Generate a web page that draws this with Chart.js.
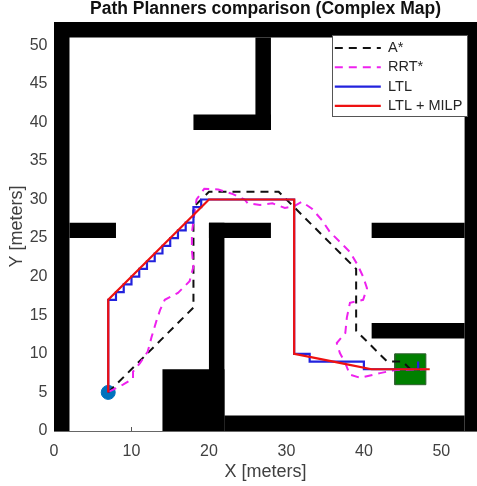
<!DOCTYPE html>
<html>
<head>
<meta charset="utf-8">
<script src="https://cdn.jsdelivr.net/npm/chart.js@4"></script>
<style>
html, body { margin: 0; padding: 0; background: #fff; overflow: hidden; }
canvas { display: block; }
</style>
</head>
<body>
<canvas id="plannerChart" width="477" height="486"></canvas>
<script>
// map blocks as [x0, y0, x1, y1] in meters
const walls = [
    [0, 0, 2, 53],
    [0, 51, 54.6, 53],
    [53, 0, 54.6, 53],
    [14, 0, 22, 8],
    [22, 0, 53, 2],
    [2, 25, 8, 27],
    [20, 0, 22, 27],
    [20, 25, 28, 27],
    [18, 39, 28, 41],
    [26, 39, 28, 51],
    [41, 25, 53, 27],
    [41, 12, 53, 14]
];
const goalBox = [44, 6, 48, 10];
const startPoint = [7, 5];

const astarX = [7, 18, 18, 20, 29, 30, 39, 39, 43, 45, 46, 48];
const astarY = [5, 16, 29, 31, 31, 30, 21, 13, 9, 9, 8, 8];

const rrtX = [7.1, 8.9, 10.2, 10.2, 11.1, 12.1, 12.6, 13.2, 13.7, 14.3, 16, 17.5, 18, 17.8, 17.8, 18, 18.4, 19.4, 21.2, 23.1, 24.6, 25, 26.6, 28.2, 29.8, 30.9, 32, 33.3, 34.6, 35.6, 36.9, 38.2, 39.2, 39.9, 40.4, 39.9, 38.2, 37.8, 37.6, 36.5, 36.9, 37.6, 38.2, 39.5, 42.1, 44, 48];
const rrtY = [5.1, 6, 6.8, 7.7, 8.8, 10.3, 12.2, 14.2, 15.7, 17, 17.9, 19.4, 21.3, 23.4, 25.6, 27.3, 30, 31.4, 31.3, 30.7, 30, 29.5, 29.3, 29.5, 28.9, 29.1, 29.7, 28.8, 27.3, 25.8, 24.5, 23.2, 21.5, 20, 18.5, 17, 16.6, 14.7, 12.7, 11.4, 10.1, 8.8, 7.3, 6.9, 7.5, 7.9, 8];

const ltlX = [7, 7, 8, 8, 9, 9, 10, 10, 11, 11, 12, 12, 13, 13, 14, 14, 15, 15, 16, 16, 17, 17, 18, 18, 19, 19, 31, 31, 33, 33, 40, 40, 47, 47];
const ltlY = [5, 17, 17, 18, 18, 19, 19, 20, 20, 21, 21, 22, 22, 23, 23, 24, 24, 25, 25, 26, 26, 27, 27, 29, 29, 30, 30, 10, 10, 9, 9, 8, 8, 9];

const milpX = [7, 7, 18, 20, 31, 31, 33, 38, 41, 48.5];
const milpY = [5, 17, 28, 30, 30, 10, 9.6, 8.6, 8, 8];

const xTickStep = 10;
const yTickStep = 5;
const legendNames = ['A*', 'RRT*', 'LTL', 'LTL + MILP'];

function toPoints(xs, ys) {
    return xs.map((x, i) => ({ x: x, y: ys[i] }));
}

function rectPoints(r) {
    return [
        { x: r[0], y: r[1] },
        { x: r[2], y: r[1] },
        { x: r[2], y: r[3] },
        { x: r[0], y: r[3] },
        { x: r[0], y: r[1] }
    ];
}

function pathDataset(label, xs, ys, color, dash, width, order) {
    return {
        label: label,
        data: toPoints(xs, ys),
        showLine: true,
        borderColor: color,
        backgroundColor: color,
        borderWidth: width,
        borderDash: dash,
        pointRadius: 0,
        tension: 0,
        fill: false,
        order: order
    };
}

const wallDatasets = walls.map(w => ({
    label: 'wall',
    data: rectPoints(w),
    showLine: true,
    borderWidth: 0,
    borderColor: '#000',
    backgroundColor: '#000',
    pointRadius: 0,
    fill: 'shape',
    order: 10
}));

const LEGEND_BOX = { left: 332, top: 35, right: 467, bottom: 116 };

// the stock legend cannot float inside the axes, so move it by hand and
// paint it again above the datasets
const floatingLegend = {
    id: 'floatingLegend',
    beforeDraw(chart) {
        const legend = chart.legend;
        legend.left = LEGEND_BOX.left - 2;
        legend.top = LEGEND_BOX.top + 1;
        legend.right = LEGEND_BOX.right;
        legend.bottom = LEGEND_BOX.bottom + 40;
    },
    afterDatasetsDraw(chart) {
        const ctx = chart.ctx;
        ctx.save();
        ctx.fillStyle = '#fff';
        ctx.strokeStyle = '#555';
        ctx.lineWidth = 1;
        ctx.fillRect(LEGEND_BOX.left, LEGEND_BOX.top, LEGEND_BOX.right - LEGEND_BOX.left, LEGEND_BOX.bottom - LEGEND_BOX.top);
        ctx.strokeRect(LEGEND_BOX.left + 0.5, LEGEND_BOX.top + 0.5, LEGEND_BOX.right - LEGEND_BOX.left, LEGEND_BOX.bottom - LEGEND_BOX.top);
        ctx.restore();
        chart.legend.draw();
    }
};

Chart.defaults.font.family = '"Liberation Sans", Arial, sans-serif';

new Chart(document.getElementById('plannerChart'), {
    type: 'scatter',
    data: {
        datasets: [
            pathDataset('A*', astarX, astarY, '#111111', [8, 6], 2, 4),
            pathDataset('RRT*', rrtX, rrtY, '#ee22ee', [8, 6], 2, 3),
            pathDataset('LTL', ltlX, ltlY, '#2222dd', [], 2.2, 2),
            pathDataset('LTL + MILP', milpX, milpY, '#ee1111', [], 2.2, 1),
            {
                label: 'goal',
                data: rectPoints(goalBox),
                showLine: true,
                borderWidth: 1,
                borderColor: '#2f5f2f',
                backgroundColor: '#008000',
                pointRadius: 0,
                fill: 'shape',
                order: 6
            },
            {
                label: 'start',
                data: [{ x: startPoint[0], y: startPoint[1] }],
                showLine: false,
                backgroundColor: '#0072BD',
                borderColor: '#0072BD',
                pointRadius: 7,
                order: 5
            },
            ...wallDatasets
        ]
    },
    options: {
        responsive: false,
        animation: false,
        layout: { padding: 0, autoPadding: false },
        plugins: {
            tooltip: { enabled: false },
            title: {
                display: true,
                fullSize: false,
                text: 'Path Planners comparison (Complex Map)',
                color: '#111',
                font: { size: 17.5, weight: 'bold', lineHeight: 1 },
                padding: { top: 0, bottom: 4.5 }
            },
            legend: {
                position: 'chartArea',
                align: 'start',
                labels: {
                    color: '#262626',
                    font: { size: 14.5 },
                    padding: 4.8,
                    usePointStyle: true,
                    pointStyle: 'line',
                    pointStyleWidth: 46,
                    // scatter datasets do not hand their line style to the legend
                    generateLabels(chart) {
                        const items = Chart.defaults.plugins.legend.labels.generateLabels(chart);
                        items.forEach(item => {
                            const ds = chart.data.datasets[item.datasetIndex];
                            item.lineDash = ds.borderDash || [];
                            item.lineWidth = ds.borderWidth;
                        });
                        return items;
                    },
                    sort: (a, b) => a.datasetIndex - b.datasetIndex,
                    filter: item => legendNames.includes(item.text)
                }
            }
        },
        scales: {
            x: {
                type: 'linear',
                min: 0,
                max: 54.6,
                afterFit(scale) {
                    scale.height = 55;
                    scale.paddingLeft = 0;
                    scale.paddingRight = 0;
                },
                border: { color: '#666' },
                grid: { drawOnChartArea: false, tickLength: -4, color: '#555' },
                ticks: {
                    stepSize: xTickStep,
                    includeBounds: false,
                    maxRotation: 0,
                    color: '#404040',
                    padding: 15,
                    font: { size: 16 }
                },
                title: {
                    display: true,
                    text: 'X [meters]',
                    color: '#404040',
                    font: { size: 18 },
                    padding: { top: 2, bottom: 3 }
                }
            },
            y: {
                type: 'linear',
                min: 0,
                max: 53,
                afterFit(scale) {
                    scale.width = 54;
                    scale.paddingTop = 0;
                    scale.paddingBottom = 0;
                },
                border: { color: '#666' },
                grid: { drawOnChartArea: false, tickLength: -4, color: '#555' },
                ticks: {
                    stepSize: yTickStep,
                    includeBounds: false,
                    color: '#404040',
                    padding: 10.5,
                    font: { size: 16 }
                },
                title: {
                    display: true,
                    text: 'Y [meters]',
                    color: '#404040',
                    font: { size: 18 },
                    padding: { top: 6, bottom: 0 }
                }
            }
        }
    },
    plugins: [floatingLegend]
});
</script>
</body>
</html>
